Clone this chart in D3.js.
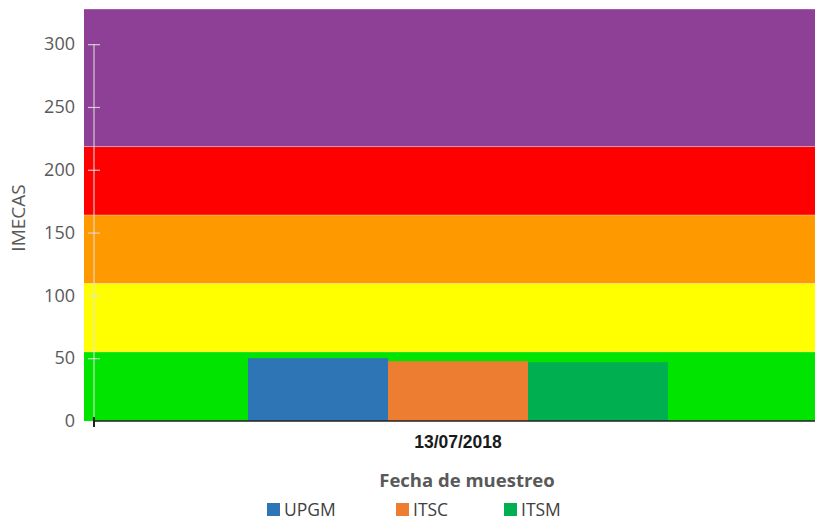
<!DOCTYPE html>
<html>
<head>
<meta charset="utf-8">
<script src="https://cdn.jsdelivr.net/npm/d3@7"></script>
<style>
  body { margin: 0; background: #fff; }
  svg { display: block; }
</style>
</head>
<body>
<svg id="chart" width="815" height="521"></svg>
<script>
// data
const categories = ['13/07/2018'];
const seriesNames = ['UPGM', 'ITSC', 'ITSM'];
const seriesColors = ['#2E75B6', '#ED7D31', '#00B050'];
const seriesValues = [[50, 47.6, 46.8]]; // one row per date

// IMECA ranges drawn behind the bars
const bandLimits = [0, 55, 109.5, 164, 218.5, 328];
const bandColors = ['#00E400', '#FFFF00', '#FF9900', '#FF0000', '#8E3F96'];

const yTicks = [0, 50, 100, 150, 200, 250, 300];

const svg = d3.select('#chart');

const margin = {top: 9, left: 94, bottom: 421};

const y = d3.scaleLinear()
  .domain([0, 328])
  .range([margin.bottom, margin.top]);

const x0 = d3.scaleBand()
  .domain(categories)
  .range([margin.left, 822])
  .paddingInner(0)
  .paddingOuter(0.3667);

const x1 = d3.scaleBand()
  .domain(seriesNames)
  .range([0, x0.bandwidth()]);

// background bands
const bands = bandColors.map((c, i) => ({from: bandLimits[i], to: bandLimits[i + 1], color: c}));
svg.append('g')
  .selectAll('rect')
  .data(bands)
  .join('rect')
  .attr('x', 84)
  .attr('width', 815 - 84)
  .attr('y', d => y(d.to))
  .attr('height', d => y(d.from) - y(d.to))
  .attr('fill', d => d.color);

// thin light edges between the bands
svg.append('g')
  .selectAll('line')
  .data(bandLimits.slice(1))
  .join('line')
  .attr('x1', 84).attr('x2', 815)
  .attr('y1', d => y(d)).attr('y2', d => y(d))
  .attr('stroke', 'rgba(255,255,255,0.35)')
  .attr('stroke-width', 1);

// bars
const rows = categories.map((c, i) => ({cat: c, values: seriesNames.map((s, j) => ({name: s, value: seriesValues[i][j], color: seriesColors[j]}))}));
svg.append('g')
  .selectAll('g')
  .data(rows)
  .join('g')
  .attr('transform', d => 'translate(' + x0(d.cat) + ',0)')
  .selectAll('rect')
  .data(d => d.values)
  .join('rect')
  .attr('x', d => x1(d.name))
  .attr('width', x1.bandwidth())
  .attr('y', d => y(d.value))
  .attr('height', d => y(0) - y(d.value))
  .attr('fill', d => d.color);

// y axis
const yAxis = svg.append('g')
  .attr('transform', 'translate(' + margin.left + ',0)')
  .call(d3.axisLeft(y).tickValues(yTicks).tickSize(6).tickPadding(13));
yAxis.select('.domain')
  .attr('d', 'M0,' + y(300) + 'V' + y(0))
  .attr('stroke', 'rgba(225,225,225,0.85)')
  .attr('stroke-width', 1.2);
yAxis.selectAll('.tick line')
  .attr('x1', -6).attr('x2', 6)
  .attr('stroke', 'rgba(225,225,225,0.85)')
  .attr('stroke-width', 1.2);
yAxis.selectAll('.tick text')
  .attr('fill', '#595959')
  .style('font-family', '"Open Sans", sans-serif')
  .style('font-size', '18px');

// x axis
const xAxis = svg.append('g')
  .attr('transform', 'translate(0,' + margin.bottom + ')')
  .call(d3.axisBottom(x0).tickSize(0).tickPadding(15));
xAxis.select('.domain')
  .attr('d', 'M' + margin.left + ',0H815')
  .attr('stroke', '#222')
  .attr('stroke-width', 1.6);
xAxis.selectAll('.tick text')
  .attr('fill', '#1a1a1a')
  .style('font-family', 'Arial, "Liberation Sans", sans-serif')
  .style('font-weight', 'bold')
  .style('font-size', '17.5px');
svg.append('line')
  .attr('x1', margin.left).attr('x2', margin.left)
  .attr('y1', margin.bottom - 4).attr('y2', margin.bottom + 6)
  .attr('stroke', '#222')
  .attr('stroke-width', 2);

// axis titles
svg.append('text')
  .attr('transform', 'translate(25,218) rotate(-90)')
  .attr('text-anchor', 'middle')
  .attr('fill', '#595959')
  .style('font-family', '"Open Sans", sans-serif')
  .style('font-size', '19px')
  .text('IMECAS');

svg.append('text')
  .attr('x', 467)
  .attr('y', 487)
  .attr('text-anchor', 'middle')
  .attr('fill', '#595959')
  .style('font-family', '"Open Sans", sans-serif')
  .style('font-weight', 'bold')
  .style('font-size', '18.5px')
  .text('Fecha de muestreo');

// legend
const legendX = [267, 396, 504];
const legend = svg.append('g')
  .selectAll('g')
  .data(seriesNames)
  .join('g')
  .attr('transform', (d, i) => 'translate(' + legendX[i] + ',503)');
legend.append('rect')
  .attr('width', 13)
  .attr('height', 13)
  .attr('fill', (d, i) => seriesColors[i]);
legend.append('text')
  .attr('x', 17)
  .attr('y', 13)
  .attr('fill', '#404040')
  .style('font-family', '"Open Sans", sans-serif')
  .style('font-size', '17.5px')
  .text(d => d);
</script>
</body>
</html>
